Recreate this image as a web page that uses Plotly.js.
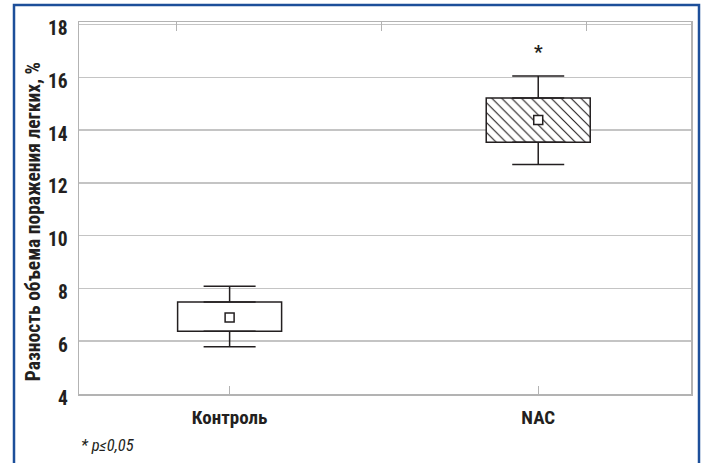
<!DOCTYPE html>
<html>
<head>
<meta charset="utf-8">
<script src="https://cdn.plot.ly/plotly-3.0.1.min.js"></script>
<style>html,body{margin:0;padding:0;background:#fff;}#chart{width:705px;height:463px;}</style>
</head>
<body>
<div id="chart"></div>
<script>
// Data
const categories = ['Контроль', 'NAC'];
const lowerWhisker = [5.79, 12.70];
const q1 = [6.38, 13.54];
const q3 = [7.49, 15.22];
const upperWhisker = [8.08, 16.05];
const means = [6.90, 14.39];
const yTicks = [4, 6, 8, 10, 12, 14, 16, 18];
const topTicks = [-0.171, 0.493, 1.156];
const yTitle = 'Разность объема поражения легких, %';
const footnote = '* p≤0,05';
const sigMark = {category: 'NAC', y: 17.0, text: '*'};

const FONT = "'Roboto Condensed', 'Liberation Sans', sans-serif";
const INK = '#231f20';
const GRID = '#c4c4c4';
const FRAME = '#b3b3b3';
const BLUE = '#1d4f9a';

const boxTrace = {
  type: 'bar',
  x: categories,
  y: q3.map((v, i) => v - q1[i]),
  base: q1,
  width: 0.337,
  marker: {
    color: 'white',
    line: {color: INK, width: 1.5},
    pattern: {shape: ['', '\\'], fgcolor: INK, bgcolor: 'white', size: 7, solidity: 0.16, fillmode: 'replace'}
  },
  hoverinfo: 'skip',
  showlegend: false
};

const upperTrace = {
  type: 'scatter', mode: 'markers',
  x: categories, y: q3,
  marker: {size: 1, color: 'rgba(0,0,0,0)'},
  error_y: {type: 'data', symmetric: false,
    array: upperWhisker.map((v, i) => v - q3[i]),
    arrayminus: q3.map(() => 0),
    width: 26, thickness: 1.5, color: INK},
  hoverinfo: 'skip', showlegend: false
};
const lowerTrace = {
  type: 'scatter', mode: 'markers',
  x: categories, y: q1,
  marker: {size: 1, color: 'rgba(0,0,0,0)'},
  error_y: {type: 'data', symmetric: false,
    array: q1.map(() => 0),
    arrayminus: q1.map((v, i) => v - lowerWhisker[i]),
    width: 26, thickness: 1.5, color: INK},
  hoverinfo: 'skip', showlegend: false
};
const meanTrace = {
  type: 'scatter', mode: 'markers',
  x: categories, y: means,
  marker: {symbol: 'square', size: 9, color: 'white', line: {color: INK, width: 1.5}},
  hoverinfo: 'skip', showlegend: false
};
// invisible trace to activate the top axis
const topAxisTrace = {
  type: 'scatter', mode: 'markers', x: [0], y: [10], xaxis: 'x2',
  marker: {size: 1, color: 'rgba(0,0,0,0)'}, hoverinfo: 'skip', showlegend: false
};

const L = 79, T = 22, W = 705, H = 463, R = 14, B = 69;
const pw = W - L - R, ph = H - T - B;
const px = x => (x - L) / pw;
const py = y => (H - B - y) / ph;

// y tick labels as annotations (the original sets them slightly below the gridlines)
const yTickLabels = yTicks.map(v => ({
  xref: 'paper', yref: 'y', x: px(69.5), y: v, yshift: -4,
  text: String(v), showarrow: false, xanchor: 'right', yanchor: 'middle',
  font: {family: FONT, size: 19.5, color: INK, weight: 'bold'}
}));

const layout = {
  width: W, height: H,
  margin: {l: L, r: R, t: T, b: B, pad: 0},
  paper_bgcolor: 'white', plot_bgcolor: 'white',
  font: {family: FONT, color: INK},
  barmode: 'overlay',
  showlegend: false,
  xaxis: {
    type: 'category',
    range: [-0.488, 1.495],
    showgrid: false, zeroline: false,
    showline: true, linecolor: FRAME, linewidth: 1.5, mirror: true,
    ticks: 'inside', ticklen: 8, tickcolor: FRAME, tickwidth: 1.2,
    tickfont: {family: FONT, size: 19, color: INK, weight: 'bold'},
    ticklabelstandoff: 6,
    fixedrange: true
  },
  xaxis2: {
    overlaying: 'x', side: 'top',
    range: [-0.488, 1.495],
    tickmode: 'array', tickvals: topTicks, ticktext: topTicks.map(() => ''),
    ticks: 'inside', ticklen: 9, tickcolor: FRAME, tickwidth: 1.2,
    showgrid: false, zeroline: false, showline: false, fixedrange: true
  },
  yaxis: {
    range: [4, 18.1],
    tickmode: 'array', tickvals: yTicks,
    showticklabels: false,
    showgrid: true, gridcolor: GRID, gridwidth: 1.5,
    zeroline: false,
    showline: true, linecolor: FRAME, linewidth: 1.5, mirror: true,
    ticks: '',
    fixedrange: true
  },
  annotations: yTickLabels.concat([
    {xref: 'paper', yref: 'paper', x: px(33.5), y: py(221.7), text: yTitle, textangle: -90,
     showarrow: false, xanchor: 'center', yanchor: 'middle',
     font: {family: FONT, size: 19.5, color: INK, weight: 'bold'}},
    {xref: 'paper', yref: 'paper', x: px(79), y: py(446), text: footnote,
     showarrow: false, xanchor: 'left', yanchor: 'middle',
     font: {family: FONT, size: 16.5, color: INK, style: 'italic'}},
    {xref: 'x', yref: 'y', x: sigMark.category, y: sigMark.y, text: sigMark.text,
     showarrow: false, xanchor: 'center', yanchor: 'middle',
     font: {family: FONT, size: 19, color: INK, weight: 'bold'}}
  ]),
  shapes: [
    {type: 'path', xref: 'paper', yref: 'paper',
     path: `M ${px(14)} ${py(480)} L ${px(14)} ${py(5)} L ${px(699)} ${py(5)} L ${px(699)} ${py(480)}`,
     line: {color: BLUE, width: 2.5}, layer: 'above'}
  ]
};

Plotly.newPlot('chart', [boxTrace, upperTrace, lowerTrace, meanTrace, topAxisTrace], layout,
  {displayModeBar: false, staticPlot: true});
</script>
</body>
</html>
